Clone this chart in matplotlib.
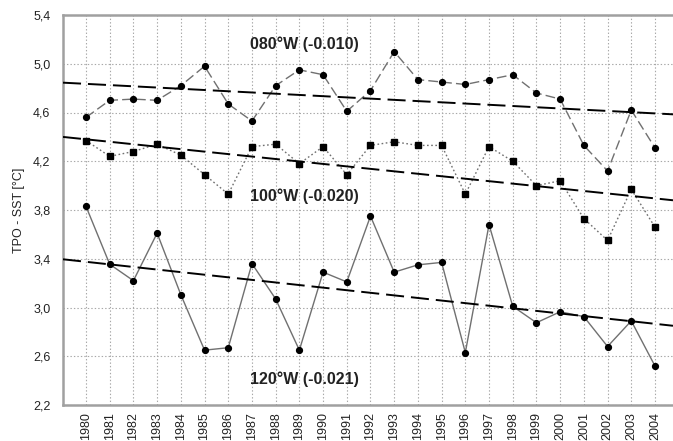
import matplotlib
matplotlib.use("Agg")
import matplotlib.pyplot as plt
import numpy as np

plt.rcParams['font.family'] = ['Liberation Sans', 'DejaVu Sans']
plt.rcParams['lines.scale_dashes'] = False

years = list(range(1980, 2005))

w080 = [4.56, 4.70, 4.71, 4.70, 4.82, 4.98, 4.67, 4.53, 4.82, 4.95, 4.91,
        4.61, 4.78, 5.10, 4.87, 4.85, 4.83, 4.87, 4.91, 4.76, 4.71,
        4.33, 4.12, 4.62, 4.31]
w100 = [4.37, 4.24, 4.28, 4.34, 4.25, 4.09, 3.93, 4.32, 4.34, 4.18, 4.32,
        4.09, 4.33, 4.36, 4.33, 4.33, 3.93, 4.32, 4.20, 4.00, 4.04,
        3.73, 3.55, 3.97, 3.66]
w120 = [3.83, 3.355, 3.22, 3.61, 3.105, 2.65, 2.67, 3.36, 3.07, 2.65, 3.29,
        3.21, 3.75, 3.29, 3.35, 3.37, 2.63, 3.68, 3.01, 2.875, 2.965,
        2.925, 2.68, 2.89, 2.52]

# trend lines: value at 1980 and slope per year
trend_080 = (4.835, -0.0101)
trend_100 = (4.38, -0.0202)
trend_120 = (3.375, -0.0212)

labels = ["080°W (-0.010)", "100°W (-0.020)", "120°W (-0.021)"]
label_y = [5.16, 3.91, 2.41]
label_x = 1989.2

y_ticks = [2.2, 2.6, 3.0, 3.4, 3.8, 4.2, 4.6, 5.0, 5.4]
y_tick_labels = ["2,2", "2,6", "3,0", "3,4", "3,8", "4,2", "4,6", "5,0", "5,4"]
x_tick_labels = [str(y) for y in years]

W, H = 673, 441
fig = plt.figure(figsize=(W / 100, H / 100), dpi=100)
ax = fig.add_axes([63 / W, 1 - 405 / H, (W - 63) / W, (405 - 15) / H])

xlim = (1979.03, 2004.76)
ax.set_xlim(*xlim)
ax.set_ylim(2.2, 5.4)

gray = '#707070'
ax.plot(years, w080, color=gray, lw=1.0, dashes=(7, 3), marker='o',
        ms=4.2, mfc='black', mec='black', zorder=3)
ax.plot(years, w100, color=gray, lw=1.0, dashes=(1.2, 1.8), marker='s',
        ms=4.6, mfc='black', mec='black', zorder=3)
ax.plot(years, w120, color=gray, lw=1.0, ls='-', marker='o',
        ms=4.2, mfc='black', mec='black', zorder=3)

xx = np.array(xlim)
for v0, s in (trend_080, trend_100, trend_120):
    ax.plot(xx, v0 + s * (xx - 1980), color='black', lw=1.4,
            dashes=(13, 5), zorder=4)

for t, yv in zip(labels, label_y):
    ax.text(label_x, yv, t, ha='center', va='center', fontsize=11.5,
            fontweight='bold', color='#222222', zorder=5)

ax.set_xticks(years)
ax.set_xticklabels(x_tick_labels, rotation=90, fontsize=9, color='#222222')
ax.set_yticks(y_ticks)
ax.set_yticklabels(y_tick_labels, fontsize=9, color='#222222')
ax.tick_params(length=0, pad=9)
ax.tick_params(axis='x', pad=5)

ax.grid(True, color='#a8a8a8', lw=0.8, ls=(0, (1, 1.5)))
ax.set_axisbelow(True)

for side in ('left', 'bottom', 'top'):
    ax.spines[side].set_color('#a0a0a0')
    ax.spines[side].set_linewidth(1.8)
ax.spines['right'].set_visible(False)

ax.set_ylabel("TPO - SST [°C]", fontsize=9, color='#222222', labelpad=6)

fig.savefig("out.png", dpi=100)
